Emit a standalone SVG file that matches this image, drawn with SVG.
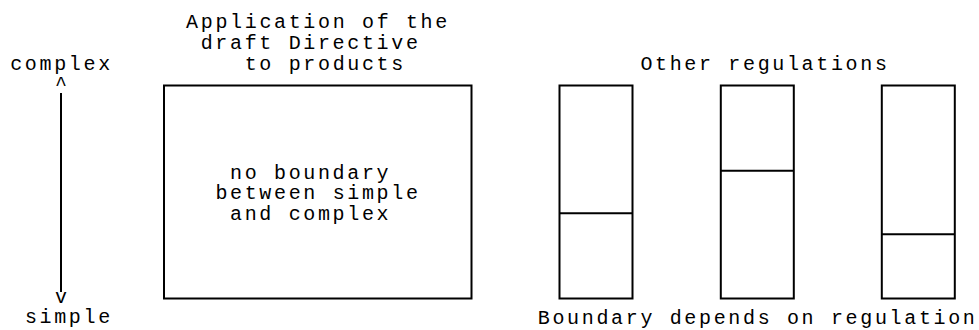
<svg xmlns="http://www.w3.org/2000/svg" width="979" height="330" viewBox="0 0 979 330">
<style>
  text { font-family: "Liberation Mono", "DejaVu Sans Mono", monospace; font-size: 20px; letter-spacing: 2.655px; fill: #000; white-space: pre; }
  .box { fill: none; stroke: #000; stroke-width: 2; }
  .line { fill: none; stroke: #000; stroke-width: 2; }
</style>
<rect width="979" height="330" fill="#fff"/>
<g id="connectors">
  <line class="line" x1="61" y1="93" x2="61" y2="292"/>
</g>
<g id="axis">
  <text x="10.2" y="70">complex</text>
  <text x="55" y="90">^</text>
  <text x="55" y="303">v</text>
  <text x="24.9" y="323">simple</text>
</g>
<g id="title-directive">
  <text x="186.1" y="28">Application of the</text>
  <text x="200.7" y="48.5">draft Directive</text>
  <text x="244.7" y="69.5">to products</text>
</g>
<g id="box-directive">
  <rect class="box" x="164" y="85.5" width="307.5" height="213"/>
  <text x="230" y="178.5">no boundary</text>
  <text x="215.4" y="199">between simple</text>
  <text x="230" y="219.5">and complex</text>
</g>
<g id="title-other">
  <text x="640.4" y="69.5">Other regulations</text>
</g>
<g id="box-reg1">
  <rect class="box" x="559.5" y="85.5" width="73" height="213"/>
  <line class="line" x1="559.5" y1="213.3" x2="632.5" y2="213.3"/>
</g>
<g id="box-reg2">
  <rect class="box" x="720.8" y="85.5" width="73" height="213"/>
  <line class="line" x1="720.8" y1="170.7" x2="793.8" y2="170.7"/>
</g>
<g id="box-reg3">
  <rect class="box" x="881.8" y="85.5" width="73" height="213"/>
  <line class="line" x1="881.8" y1="234.3" x2="954.8" y2="234.3"/>
</g>
<g id="caption-other">
  <text x="537.8" y="324">Boundary depends on regulation</text>
</g>
</svg>
